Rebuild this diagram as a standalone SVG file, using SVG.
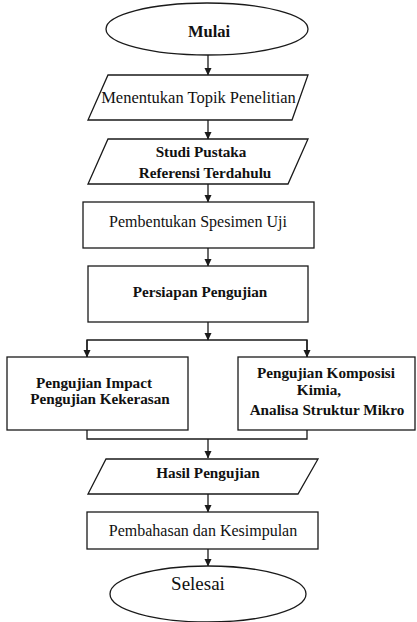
<svg xmlns="http://www.w3.org/2000/svg" width="417" height="622" viewBox="0 0 417 622">
<style>
.s{fill:#fff;stroke:#1a1a1a;stroke-width:1.3}
.c{fill:none;stroke:#1a1a1a;stroke-width:1.3}
text{font-family:"Liberation Serif","Times New Roman",serif;fill:#111;text-anchor:middle}
.b{font-weight:bold;font-size:15.2px}
.r{font-size:16px}
</style>
<defs>
<marker id="ah" markerWidth="8" markerHeight="8" refX="7" refY="4" orient="auto" markerUnits="userSpaceOnUse">
<path d="M0,0.5 L7.5,4 L0,7.5 Z" fill="#1a1a1a"/>
</marker>
</defs>
<rect width="417" height="622" fill="#fff"/>
<g id="connectors">
<line class="c" x1="208" y1="55" x2="208" y2="75" marker-end="url(#ah)"/>
<line class="c" x1="208" y1="120" x2="208" y2="139" marker-end="url(#ah)"/>
<line class="c" x1="208" y1="184" x2="208" y2="202" marker-end="url(#ah)"/>
<line class="c" x1="208" y1="248" x2="208" y2="266" marker-end="url(#ah)"/>
<line class="c" x1="208" y1="322" x2="208" y2="340" marker-end="url(#ah)"/>
<polyline class="c" points="87,357 87,340 307,340 307,357"/>
<line class="c" x1="87" y1="340" x2="87" y2="357" marker-end="url(#ah)"/>
<line class="c" x1="307" y1="340" x2="307" y2="357" marker-end="url(#ah)"/>
<polyline class="c" points="87,430 87,439 307,439 307,430"/>
<line class="c" x1="208" y1="439" x2="208" y2="458" marker-end="url(#ah)"/>
<line class="c" x1="208" y1="494" x2="208" y2="512" marker-end="url(#ah)"/>
<line class="c" x1="208" y1="549" x2="208" y2="566" marker-end="url(#ah)"/>
</g>
<g id="mulai">
<ellipse class="s" cx="207" cy="29" rx="101" ry="26"/>
<text x="209" y="37" style="font-weight:bold;font-size:16.5px">Mulai</text>
</g>
<g id="topik">
<polygon class="s" points="108,75 308,75 292,120 88,120"/>
<text class="r" x="198.5" y="103" style="font-size:16.5px">Menentukan Topik Penelitian</text>
</g>
<g id="studi">
<polygon class="s" points="108,139 308,139 288,184 88,184"/>
<text class="b" x="201" y="157">Studi Pustaka</text>
<text class="b" x="205" y="178">Referensi Terdahulu</text>
</g>
<g id="spesimen">
<rect class="s" x="83" y="202" width="231" height="46"/>
<text class="r" x="198" y="227">Pembentukan Spesimen Uji</text>
</g>
<g id="persiapan">
<rect class="s" x="88" y="266" width="220" height="56"/>
<text class="b" x="200" y="297">Persiapan Pengujian</text>
</g>
<g id="impact">
<rect class="s" x="7" y="357" width="181" height="73"/>
<text class="b" x="94" y="388">Pengujian Impact</text>
<text class="b" x="100" y="404">Pengujian Kekerasan</text>
</g>
<g id="komposisi">
<rect class="s" x="238" y="357" width="177" height="73"/>
<text class="b" x="326" y="378">Pengujian Komposisi</text>
<text class="b" x="319" y="395">Kimia,</text>
<text class="b" x="327" y="415">Analisa Struktur Mikro</text>
</g>
<g id="hasil">
<polygon class="s" points="106,459 318,459 298,494 88,494"/>
<text class="b" x="208" y="478">Hasil Pengujian</text>
</g>
<g id="pembahasan">
<rect class="s" x="87" y="512" width="231" height="37"/>
<text class="r" x="203" y="536">Pembahasan dan Kesimpulan</text>
</g>
<g id="selesai">
<ellipse class="s" cx="208" cy="594" rx="98" ry="28"/>
<text x="198" y="590" style="font-size:19px">Selesai</text>
</g>
</svg>
